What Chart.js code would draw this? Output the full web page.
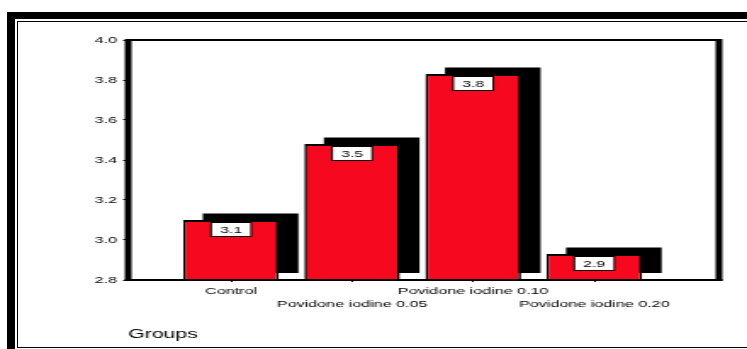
<!DOCTYPE html>
<html>
<head>
<meta charset="utf-8">
<script src="https://cdn.jsdelivr.net/npm/chart.js@4.4.1/dist/chart.umd.min.js"></script>
<style>
html, body { margin: 0; padding: 0; background: #fff; }
body { width: 747px; height: 349px; position: relative; overflow: hidden; }
/* the original figure is stretched horizontally, so the chart is too */
#wrap { position: absolute; left: 0; top: 0; width: 440px; height: 349px; transform: scaleX(1.69773); transform-origin: 0 0; }
.rule { position: absolute; background: #000; }
</style>
</head>
<body>
<div id="wrap"><canvas id="chart"></canvas></div>
<div class="rule" style="left:7px;top:12px;width:740px;height:7px"></div>
<div class="rule" style="left:7px;top:12px;width:8px;height:337px"></div>
<div class="rule" style="left:17px;top:21px;width:730px;height:1px"></div>
<div class="rule" style="left:17px;top:21px;width:1px;height:327px"></div>
<div class="rule" style="left:17px;top:347px;width:730px;height:1px"></div>
<script>
// Données
const groups = ['Control', 'Povidone iodine 0.05', 'Povidone iodine 0.10', 'Povidone iodine 0.20'];
const means = [3.10, 3.48, 3.83, 2.93];
const yTicks = [2.8, 3.0, 3.2, 3.4, 3.6, 3.8, 4.0];
const xTitle = 'Groups';

const FONT = "'Liberation Sans', Arial, sans-serif";
const RED = 'rgb(246, 9, 30)';
const SHADOW_DX = 11.5;
const SHADOW_DY = 6.5;

// Ombre noire décalée derrière chaque barre
const shadowPlugin = {
    id: 'barShadow',
    beforeDatasetsDraw(chart) {
        const ctx = chart.ctx;
        ctx.save();
        ctx.fillStyle = '#000';
        chart.getDatasetMeta(0).data.forEach(bar => {
            const p = bar.getProps(['x', 'y', 'base', 'width'], true);
            ctx.fillRect(p.x - p.width / 2 + SHADOW_DX, p.y - SHADOW_DY, p.width, p.base - p.y);
        });
        ctx.restore();
    }
};

// Cadre du graphique + étiquettes de valeurs
const framePlugin = {
    id: 'frameAndLabels',
    afterDatasetsDraw(chart) {
        const ctx = chart.ctx;
        const a = chart.chartArea;
        ctx.save();
        ctx.fillStyle = '#000';
        ctx.fillRect(a.left, a.top - 1, a.right - a.left, 2);
        ctx.fillRect(a.left - 2, a.bottom - 1, a.right - a.left + 4, 2);
        ctx.fillRect(a.left - 2, a.top - 1, 4, a.bottom - a.top + 2);
        ctx.fillRect(a.right - 2, a.top - 1, 4, a.bottom - a.top + 2);

        ctx.font = '9.3px ' + FONT;
        ctx.textAlign = 'center';
        ctx.textBaseline = 'middle';
        chart.getDatasetMeta(0).data.forEach((bar, i) => {
            const p = bar.getProps(['x', 'y'], true);
            const w = 23.6, h = 14;
            const top = p.y + 2.5;
            ctx.fillStyle = '#fff';
            ctx.fillRect(p.x - w / 2, top, w, h);
            ctx.strokeStyle = '#000';
            ctx.lineWidth = 1;
            ctx.strokeRect(p.x - w / 2, top, w, h);
            ctx.fillStyle = '#000';
            ctx.fillText(means[i].toFixed(1), p.x, top + h / 2 + 0.5);
        });
        ctx.restore();
    }
};

new Chart(document.getElementById('chart'), {
    type: 'bar',
    data: {
        datasets: [{
            data: means.map((v, i) => ({ x: i + 1, y: v })),
            base: yTicks[0],
            backgroundColor: RED,
            borderColor: '#000',
            borderWidth: { top: 2, left: 1.6, right: 1.6, bottom: 0 },
            borderSkipped: 'bottom',
            categoryPercentage: 1,
            barPercentage: 0.79
        }]
    },
    options: {
        responsive: true,
        maintainAspectRatio: false,
        animation: false,
        layout: { padding: { left: 0, top: 40, right: 16.5, bottom: 0 } },
        plugins: { legend: { display: false }, tooltip: { enabled: false } },
        scales: {
            x: {
                type: 'linear',
                offset: false,
                min: 0.15,
                max: 5.03,
                afterBuildTicks: s => { s.ticks = groups.map((g, i) => ({ value: i + 1 })); },
                afterFit: s => { s.height = 69; },
                border: { display: false },
                grid: { offset: false, drawOnChartArea: false, tickLength: 2, color: '#000' },
                ticks: {
                    autoSkip: false,
                    maxRotation: 0,
                    padding: 2,
                    color: '#000',
                    font: { family: FONT, size: 9.5, lineHeight: 1.45 },
                    callback: v => {
                        const g = groups[v - 1];
                        return (v - 1) % 2 === 0 ? [g, ''] : ['', g];
                    }
                },
                title: {
                    display: true,
                    text: xTitle,
                    align: 'start',
                    color: '#000',
                    font: { family: FONT, size: 12.5 },
                    padding: { top: 0, bottom: 7 }
                }
            },
            y: {
                min: yTicks[0],
                max: yTicks[yTicks.length - 1],
                afterBuildTicks: s => { s.ticks = yTicks.map(v => ({ value: v })); },
                afterFit: s => { s.width = 75.5; },
                border: { display: false },
                grid: { drawOnChartArea: false, tickLength: 3, color: '#000' },
                ticks: {
                    padding: 3.6,
                    color: '#000',
                    font: { family: FONT, size: 9.4 },
                    callback: v => v.toFixed(1)
                }
            }
        }
    },
    plugins: [shadowPlugin, framePlugin]
});
</script>
</body>
</html>
